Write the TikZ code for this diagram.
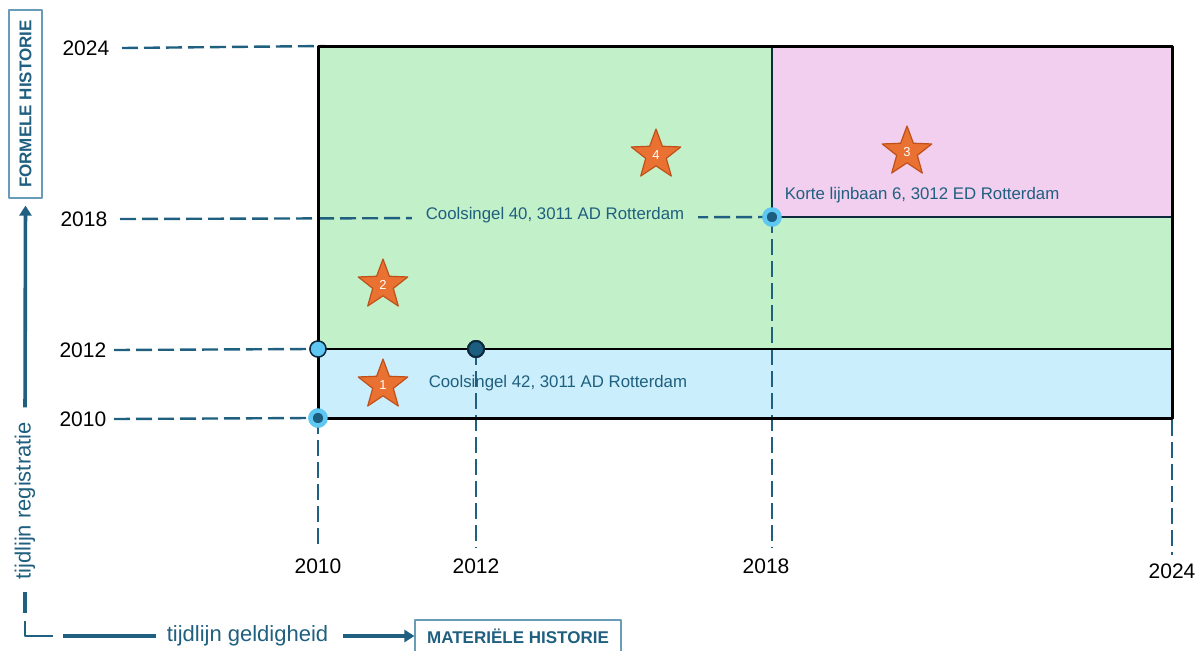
\documentclass[tikz,border=0pt]{standalone}
\usepackage{fontspec}
\setmainfont{Liberation Sans}
\usetikzlibrary{shapes.geometric,arrows.meta}

\definecolor{tealblue}{HTML}{1F5F7F}
\definecolor{boxline}{HTML}{6A9CB8}
\definecolor{greenfill}{HTML}{C2F0C8}
\definecolor{pinkfill}{HTML}{F2CEEF}
\definecolor{bluefill}{HTML}{CAEEFB}
\definecolor{navyline}{HTML}{0E2A3D}
\definecolor{lightdot}{HTML}{5FC8F2}
\definecolor{darkdot}{HTML}{1B5E80}
\definecolor{starorange}{HTML}{E97132}
\definecolor{stardark}{HTML}{C0501A}

\tikzset{every picture/.style={line width=0.75pt}}

\begin{document}
\begin{tikzpicture}[x=0.5pt, y=-0.5pt,
                    line join=round,
                    guide/.style={tealblue, line width=1.2pt, dash pattern=on 8pt off 3pt},
                    year/.style={font=\fontsize{10.5}{12}\selectfont, inner sep=2pt},
                    address/.style={tealblue, font=\fontsize{8.4}{10}\selectfont, inner sep=0pt},
                    marker/.style={star, star points=5, star point ratio=2.4, minimum size=26pt,
                                   inner sep=0pt, fill=starorange, draw=stardark, line width=0.6pt,
                                   text=white, font=\fontsize{6.5}{7}\selectfont},
                    history/.style={draw=boxline, line width=0.6pt, text=tealblue,
                                    font=\fontsize{8.5}{10}\selectfont\bfseries, inner sep=0pt},
                    timeline/.style={tealblue, font=\fontsize{11}{13}\selectfont},
                    axis/.style={tealblue, line width=1.8pt, >={Triangle[length=5pt,width=6pt]}},
                    dotlight/.style={circle, minimum size=8pt, inner sep=0pt, fill=lightdot, draw=navyline, line width=0.7pt},
                    dotdark/.style={circle, minimum size=8pt, inner sep=0pt, fill=darkdot, draw=navyline, line width=1pt},
                    dotring/.style={circle, minimum size=7.5pt, inner sep=0pt, fill=darkdot, draw=lightdot, line width=2.2pt}]
  \useasboundingbox (0,0) rectangle (1200,650);
  \def\xA{318} \def\xB{476} \def\xC{772} \def\xD{1172}
  \def\yA{418} \def\yB{349} \def\yC{217} \def\yD{46}

  % areas
  \fill[greenfill] (\xA,\yD) rectangle (\xD,\yB);
  \fill[pinkfill]  (\xC,\yD) rectangle (\xD,\yC);
  \fill[bluefill]  (\xA,\yB) rectangle (\xD,\yA);

  % year labels
  \node[year, anchor=east, inner xsep=6pt] (r24) at (122,48) {2024};
  \node[year, anchor=east, inner xsep=6pt] (r18) at (120,219) {2018};
  \node[year, anchor=east, inner xsep=3.5pt] (r12) at (114,350) {2012};
  \node[year, anchor=east, inner xsep=3.5pt] (r10) at (114,419) {2010};
  \node[year] (b10) at (318,566) {2010};
  \node[year] (b12) at (476,566) {2012};
  \node[year] (b18) at (766,566) {2018};
  \node[year] (b24) at (1172,571) {2024};

  % points
  \coordinate (p24) at (325,\yD);
  \coordinate (t24) at (\xD,420);
  \node[dotring]  (p10) at (\xA,\yA) {};
  \node[dotlight] (p12) at (\xA,\yB) {};
  \node[dotdark]  (q12) at (\xB,\yB) {};
  \node[dotring]  (p18) at (\xC,\yC) {};

  % guide lines
  \draw[guide] (r24.east) -- (p24);
  \draw[guide] (r18.east) -- (p18.center);
  \draw[guide] (r12.east) -- (p12.west);
  \draw[guide] (r10.east) -- (p10.west);
  \draw[guide, shorten >=3pt] (p10.center) -- (b10.north);
  \draw[guide, shorten >=3pt] (q12.center) -- (b12.north);
  \draw[guide, shorten >=3pt] (p18.center) -- (b18.north -| p18);
  \draw[guide, shorten >=2pt] (t24) -- (b24.north);

  % borders
  \draw[navyline, line width=1pt] (\xC,\yD) -- (\xC,\yC) -- (\xD,\yC);
  \draw[black, line width=1pt] (\xA,\yB) -- (\xD,\yB);
  \draw[black, line width=1.5pt] (\xA,\yD) rectangle (\xD,\yA);

  % dots on top
  \node[dotring]  at (p10) {};
  \node[dotlight] at (p12) {};
  \node[dotdark]  at (q12) {};
  \node[dotring]  at (p18) {};

  % addresses
  \node[address, fill=greenfill, inner xsep=7pt, inner ysep=2pt] (a40) at (555,215) {Coolsingel 40, 3011 AD Rotterdam};
  \node[address, anchor=west] (a42) at (428,383) {Coolsingel 42, 3011 AD Rotterdam};
  \node[address, anchor=west] (a6) at (784,195) {Korte lijnbaan 6, 3012 ED Rotterdam};

  % stars
  \node[marker] (s1) at (383,385) {1};
  \node[marker] (s2) at (383,285) {2};
  \node[marker] (s3) at (907,152) {3};
  \node[marker] (s4) at (656,155) {4};

  % timelines
  \node[history, rotate=90, minimum width=94pt, minimum height=16.5pt] (formele) at (25.5,104) {FORMELE HISTORIE};
  \node[history, minimum width=103pt, minimum height=16pt] (materiele) at (518,636) {MATERIËLE HISTORIE};
  \node[timeline, rotate=90, inner sep=0pt] (reg) at (25,501) {tijdlijn registratie};
  \node[timeline, anchor=west, inner xsep=5pt] (geld) at (156,636) {tijdlijn geldigheid};
  \coordinate (corner) at (25,636);

  \draw[axis, ->, shorten <=7pt, shorten >=3.5pt] (reg.east) -- (formele.west);
  \draw[axis] (reg.west) ++(0,11) -- ++(0,21);
  \draw[tealblue, line width=1pt] (corner) ++(0,-15) |- ++(28,15);
  \draw[axis] (corner) ++(38,0) -- (corner -| geld.west);
  \draw[axis, ->, shorten <=2pt] (corner -| geld.east) -- (corner -| materiele.west);

\end{tikzpicture}
\end{document}
